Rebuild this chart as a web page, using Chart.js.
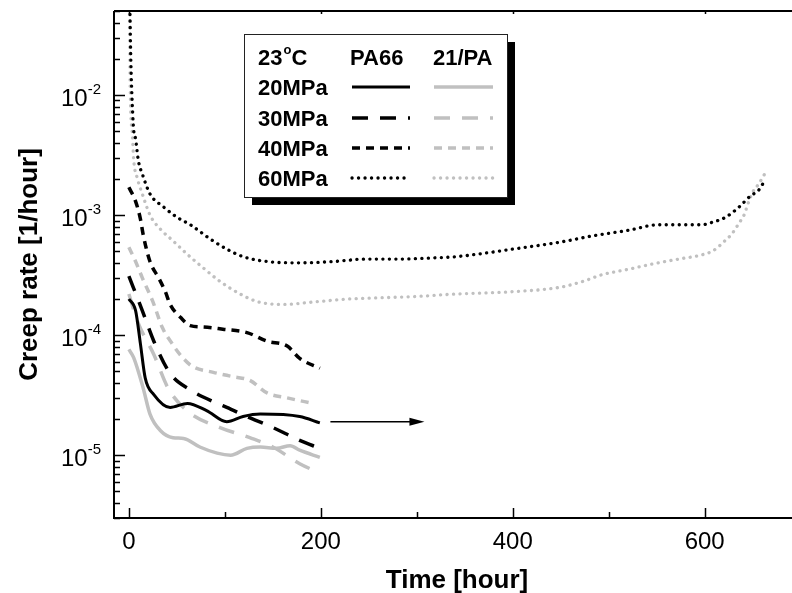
<!DOCTYPE html>
<html>
<head>
<meta charset="utf-8">
<script src="https://cdn.jsdelivr.net/npm/chart.js@4"></script>
<style>
  html, body { margin: 0; padding: 0; background: #fff; }
</style>
</head>
<body>
<canvas id="chart" width="792" height="593"></canvas>
<script>
// ── Data (time in hours, creep rate in 1/hour) ───────────────
const tPA66_20 = [0, 7, 12, 17, 26, 43, 61, 81, 102, 119, 137, 178, 199];
const rPA66_20 = [2.0e-4, 1.6e-4, 8.5e-5, 4.4e-5, 3.2e-5, 2.5e-5, 2.7e-5, 2.35e-5, 1.9e-5, 2.1e-5, 2.2e-5, 2.1e-5, 1.86e-5];

const tPA21_20 = [0, 5, 15, 22, 33, 46, 57, 74, 92, 106, 123, 137, 154, 168, 178, 199];
const rPA21_20 = [7.6e-5, 6.5e-5, 3.6e-5, 2.2e-5, 1.6e-5, 1.4e-5, 1.38e-5, 1.17e-5, 1.04e-5, 1.0e-5, 1.14e-5, 1.17e-5, 1.14e-5, 1.2e-5, 1.1e-5, 9.6e-6];

const tPA66_30 = [0, 14, 26, 43, 64, 92, 102, 123, 150, 178, 199];
const rPA66_30 = [3.1e-4, 1.6e-4, 8.9e-5, 4.8e-5, 3.5e-5, 2.7e-5, 2.5e-5, 2.1e-5, 1.7e-5, 1.33e-5, 1.14e-5];

const tPA21_30 = [0, 9, 26, 41, 62, 95, 126, 150, 178, 199];
const rPA21_30 = [2.2e-4, 1.3e-4, 6.9e-5, 3.6e-5, 2.3e-5, 1.7e-5, 1.4e-5, 1.17e-5, 8.5e-6, 7.1e-6];

const tPA66_40 = [0, 7, 12, 15, 22, 31, 38, 43, 54, 64, 78, 98, 123, 144, 165, 178, 199];
const rPA66_40 = [1.7e-3, 1.3e-3, 9.3e-4, 6.8e-4, 4.1e-4, 3.0e-4, 2.3e-4, 1.8e-4, 1.4e-4, 1.2e-4, 1.17e-4, 1.12e-4, 1.05e-4, 8.9e-5, 8.1e-5, 6.4e-5, 5.3e-5];

const tPA21_40 = [0, 7, 14, 25, 35, 45, 56, 66, 88, 109, 126, 144, 165, 192];
const rPA21_40 = [5.4e-4, 4.1e-4, 3.0e-4, 1.9e-4, 1.15e-4, 8.5e-5, 6.5e-5, 5.5e-5, 4.9e-5, 4.5e-5, 4.2e-5, 3.3e-5, 3.0e-5, 2.7e-5];

const tPA66_60 = [1, 2, 4, 5, 7, 10, 14, 22, 36, 50, 64, 85, 102, 119, 144, 178, 213, 248, 282, 317, 341, 400, 452, 483, 518, 553, 570, 597, 608, 622, 636, 648, 656, 662];
const rPA66_60 = [6e-2, 2e-2, 7e-3, 5.1e-3, 4.3e-3, 2.8e-3, 2.2e-3, 1.5e-3, 1.17e-3, 9.6e-4, 8.3e-4, 6.3e-4, 5.2e-4, 4.5e-4, 4.1e-4, 4.0e-4, 4.1e-4, 4.3e-4, 4.3e-4, 4.4e-4, 4.5e-4, 5.2e-4, 6.0e-4, 6.7e-4, 7.4e-4, 8.3e-4, 8.3e-4, 8.3e-4, 8.7e-4, 9.6e-4, 1.17e-3, 1.45e-3, 1.6e-3, 1.9e-3];

const tPA21_60 = [0.5, 1, 1.7, 3.7, 5, 9, 14, 22, 33, 45, 61, 78, 95, 116, 134, 161, 196, 230, 265, 300, 341, 400, 449, 473, 494, 518, 545, 573, 594, 608, 615, 622, 628, 633, 638, 641, 646, 650, 656, 664];
const rPA21_60 = [6e-2, 2e-2, 8.5e-3, 4.6e-3, 2.9e-3, 2.0e-3, 1.5e-3, 1.0e-3, 7.6e-4, 6.2e-4, 4.7e-4, 3.6e-4, 2.8e-4, 2.2e-4, 1.9e-4, 1.8e-4, 1.9e-4, 2.0e-4, 2.05e-4, 2.1e-4, 2.2e-4, 2.3e-4, 2.5e-4, 2.8e-4, 3.2e-4, 3.5e-4, 3.9e-4, 4.3e-4, 4.6e-4, 5.0e-4, 5.5e-4, 6.2e-4, 6.9e-4, 7.9e-4, 9.1e-4, 1.0e-3, 1.3e-3, 1.55e-3, 1.8e-3, 2.3e-3];

// arrow pointing right from the end of the PA66 20MPa curve
const arrowX = [210, 308];
const arrowY = [1.9e-5, 1.9e-5];

// axes
const xRange = [-15.5, 691];
const yRange = [3e-6, 5e-2];
const xMajorTicks = [0, 200, 400, 600];
const xMinorTicks = [100, 300, 500];
const yLabelExps = [-5, -4, -3, -2];

// legend texts
const legendTemp = '23';
const legendCols = ['PA66', '21/PA'];
const legendRows = ['20MPa', '30MPa', '40MPa', '60MPa'];

const BLACK = '#000000';
const GRAY = '#c0c0c0';
const DASH = {
    solid: [],
    long: [16, 12],
    short: [8, 6],
    dot: [0.1, 6.4]
};

function pts(t, r) {
    return t.map((x, i) => ({ x, y: r[i] }));
}

function series(label, t, r, color, dash, width) {
    return {
        label,
        data: pts(t, r),
        borderColor: color,
        borderWidth: width,
        borderDash: dash,
        borderCapStyle: dash === DASH.dot ? 'round' : 'butt',
        pointRadius: 0,
        fill: false,
        cubicInterpolationMode: 'monotone'
    };
}

const datasets = [
    series('PA66 20MPa', tPA66_20, rPA66_20, BLACK, DASH.solid, 3),
    series('21/PA 20MPa', tPA21_20, rPA21_20, GRAY, DASH.solid, 3.5),
    series('PA66 30MPa', tPA66_30, rPA66_30, BLACK, DASH.long, 3.5),
    series('21/PA 30MPa', tPA21_30, rPA21_30, GRAY, DASH.long, 3.5),
    series('PA66 40MPa', tPA66_40, rPA66_40, BLACK, DASH.short, 3.5),
    series('21/PA 40MPa', tPA21_40, rPA21_40, GRAY, DASH.short, 3.5),
    series('PA66 60MPa', tPA66_60, rPA66_60, BLACK, DASH.dot, 3.3),
    series('21/PA 60MPa', tPA21_60, rPA21_60, GRAY, DASH.dot, 3.3)
];

const FONT = '"Liberation Sans", Arial, sans-serif';

// ── Axes, labels, legend and arrow drawn from the scales ─────
const decorations = {
    id: 'decorations',
    afterDraw(chart) {
        const ctx = chart.ctx;
        const area = chart.chartArea;
        const xs = chart.scales.x;
        const ys = chart.scales.y;
        ctx.save();

        // frame
        ctx.strokeStyle = '#000';
        ctx.lineWidth = 2;
        ctx.beginPath();
        ctx.moveTo(area.left, area.top);
        ctx.lineTo(area.left, area.bottom);
        ctx.lineTo(area.right + 2, area.bottom);
        ctx.moveTo(area.left, area.top);
        ctx.lineTo(area.right + 2, area.top);
        ctx.stroke();

        // x ticks (inward)
        ctx.lineWidth = 1.5;
        ctx.beginPath();
        xMajorTicks.forEach(v => {
            const px = Math.round(xs.getPixelForValue(v)) + 0.5;
            ctx.moveTo(px, area.bottom);
            ctx.lineTo(px, area.bottom - 10);
            ctx.moveTo(px, area.top);
            ctx.lineTo(px, area.top + 3);
        });
        xMinorTicks.forEach(v => {
            const px = Math.round(xs.getPixelForValue(v)) + 0.5;
            ctx.moveTo(px, area.bottom);
            ctx.lineTo(px, area.bottom - 6);
        });
        ctx.stroke();

        // y ticks, log decades with minor ticks
        ctx.beginPath();
        for (let e = -6; e <= -1; e++) {
            for (let m = 1; m <= 9; m++) {
                const v = m * Math.pow(10, e);
                if (v < yRange[0] || v > yRange[1]) continue;
                const py = Math.round(ys.getPixelForValue(v)) + 0.5;
                ctx.moveTo(area.left, py);
                ctx.lineTo(area.left + (m === 1 ? 11 : 6), py);
            }
        }
        ctx.stroke();

        // x tick labels
        ctx.fillStyle = '#000';
        ctx.font = '24px ' + FONT;
        ctx.textAlign = 'center';
        ctx.textBaseline = 'alphabetic';
        xMajorTicks.forEach(v => {
            ctx.fillText(String(v), xs.getPixelForValue(v), 549);
        });

        // y tick labels 10^e
        yLabelExps.forEach(e => {
            const py = ys.getPixelForValue(Math.pow(10, e));
            const sup = String(e);
            ctx.font = '15px ' + FONT;
            const ws = ctx.measureText(sup).width;
            ctx.font = '24px ' + FONT;
            const wb = ctx.measureText('10').width;
            const right = 101;
            ctx.textAlign = 'left';
            ctx.fillText('10', right - ws - wb, py + 11);
            ctx.font = '15px ' + FONT;
            ctx.fillText(sup, right - ws, py - 1);
        });

        // axis titles
        ctx.font = 'bold 26px ' + FONT;
        ctx.textAlign = 'center';
        ctx.fillText('Time [hour]', (area.left + area.right) / 2 + 4, 588);
        ctx.save();
        ctx.translate(37, (area.top + area.bottom) / 2);
        ctx.rotate(-Math.PI / 2);
        ctx.fillText('Creep rate [1/hour]', 0, 0);
        ctx.restore();

        // arrow
        const ax0 = xs.getPixelForValue(arrowX[0]);
        const ax1 = xs.getPixelForValue(arrowX[1]);
        const ay = ys.getPixelForValue(arrowY[0]);
        ctx.strokeStyle = '#000';
        ctx.lineWidth = 1.5;
        ctx.beginPath();
        ctx.moveTo(ax0, ay);
        ctx.lineTo(ax1 - 10, ay);
        ctx.stroke();
        ctx.beginPath();
        ctx.moveTo(ax1, ay);
        ctx.lineTo(ax1 - 15, ay - 4);
        ctx.lineTo(ax1 - 15, ay + 4);
        ctx.closePath();
        ctx.fill();

        // legend box with shadow
        const box = { x: 244, y: 34, w: 263, h: 163 };
        ctx.fillStyle = '#000';
        ctx.fillRect(box.x + 8, box.y + 8, box.w, box.h);
        ctx.fillStyle = '#fff';
        ctx.fillRect(box.x, box.y, box.w, box.h);
        ctx.strokeStyle = '#222';
        ctx.lineWidth = 1;
        ctx.strokeRect(box.x + 0.5, box.y + 0.5, box.w, box.h);

        ctx.fillStyle = '#000';
        ctx.textAlign = 'left';
        ctx.font = 'bold 22px ' + FONT;
        const headY = 65;
        ctx.fillText(legendTemp, 258, headY);
        const w23 = ctx.measureText(legendTemp).width;
        ctx.font = 'bold 13px ' + FONT;
        ctx.fillText('o', 258 + w23 + 1, headY - 11);
        const wo = ctx.measureText('o').width;
        ctx.font = 'bold 22px ' + FONT;
        ctx.fillText('C', 258 + w23 + wo + 1, headY);
        ctx.fillText(legendCols[0], 350, headY);
        ctx.fillText(legendCols[1], 433, headY);

        const rowY = [87, 118, 148, 178];
        legendRows.forEach((txt, i) => {
            ctx.fillStyle = '#000';
            ctx.font = 'bold 22px ' + FONT;
            ctx.fillText(txt, 258, rowY[i] + 8);
            [[datasets[2 * i], 352, 410], [datasets[2 * i + 1], 434, 493]].forEach(([ds, x0, x1]) => {
                ctx.save();
                ctx.strokeStyle = ds.borderColor;
                ctx.lineWidth = ds.borderWidth;
                ctx.setLineDash(ds.borderDash);
                ctx.lineCap = ds.borderCapStyle;
                ctx.beginPath();
                ctx.moveTo(x0, rowY[i]);
                ctx.lineTo(x1, rowY[i]);
                ctx.stroke();
                ctx.restore();
            });
        });

        ctx.restore();
    }
};

new Chart(document.getElementById('chart'), {
    type: 'line',
    data: { datasets },
    options: {
        responsive: false,
        devicePixelRatio: 1,
        animation: false,
        layout: { padding: { left: 114, right: 0, top: 11, bottom: 75 } },
        plugins: { legend: { display: false }, tooltip: { enabled: false } },
        scales: {
            x: { type: 'linear', min: xRange[0], max: xRange[1], display: false },
            y: { type: 'logarithmic', min: yRange[0], max: yRange[1], display: false }
        }
    },
    plugins: [decorations]
});
</script>
</body>
</html>
